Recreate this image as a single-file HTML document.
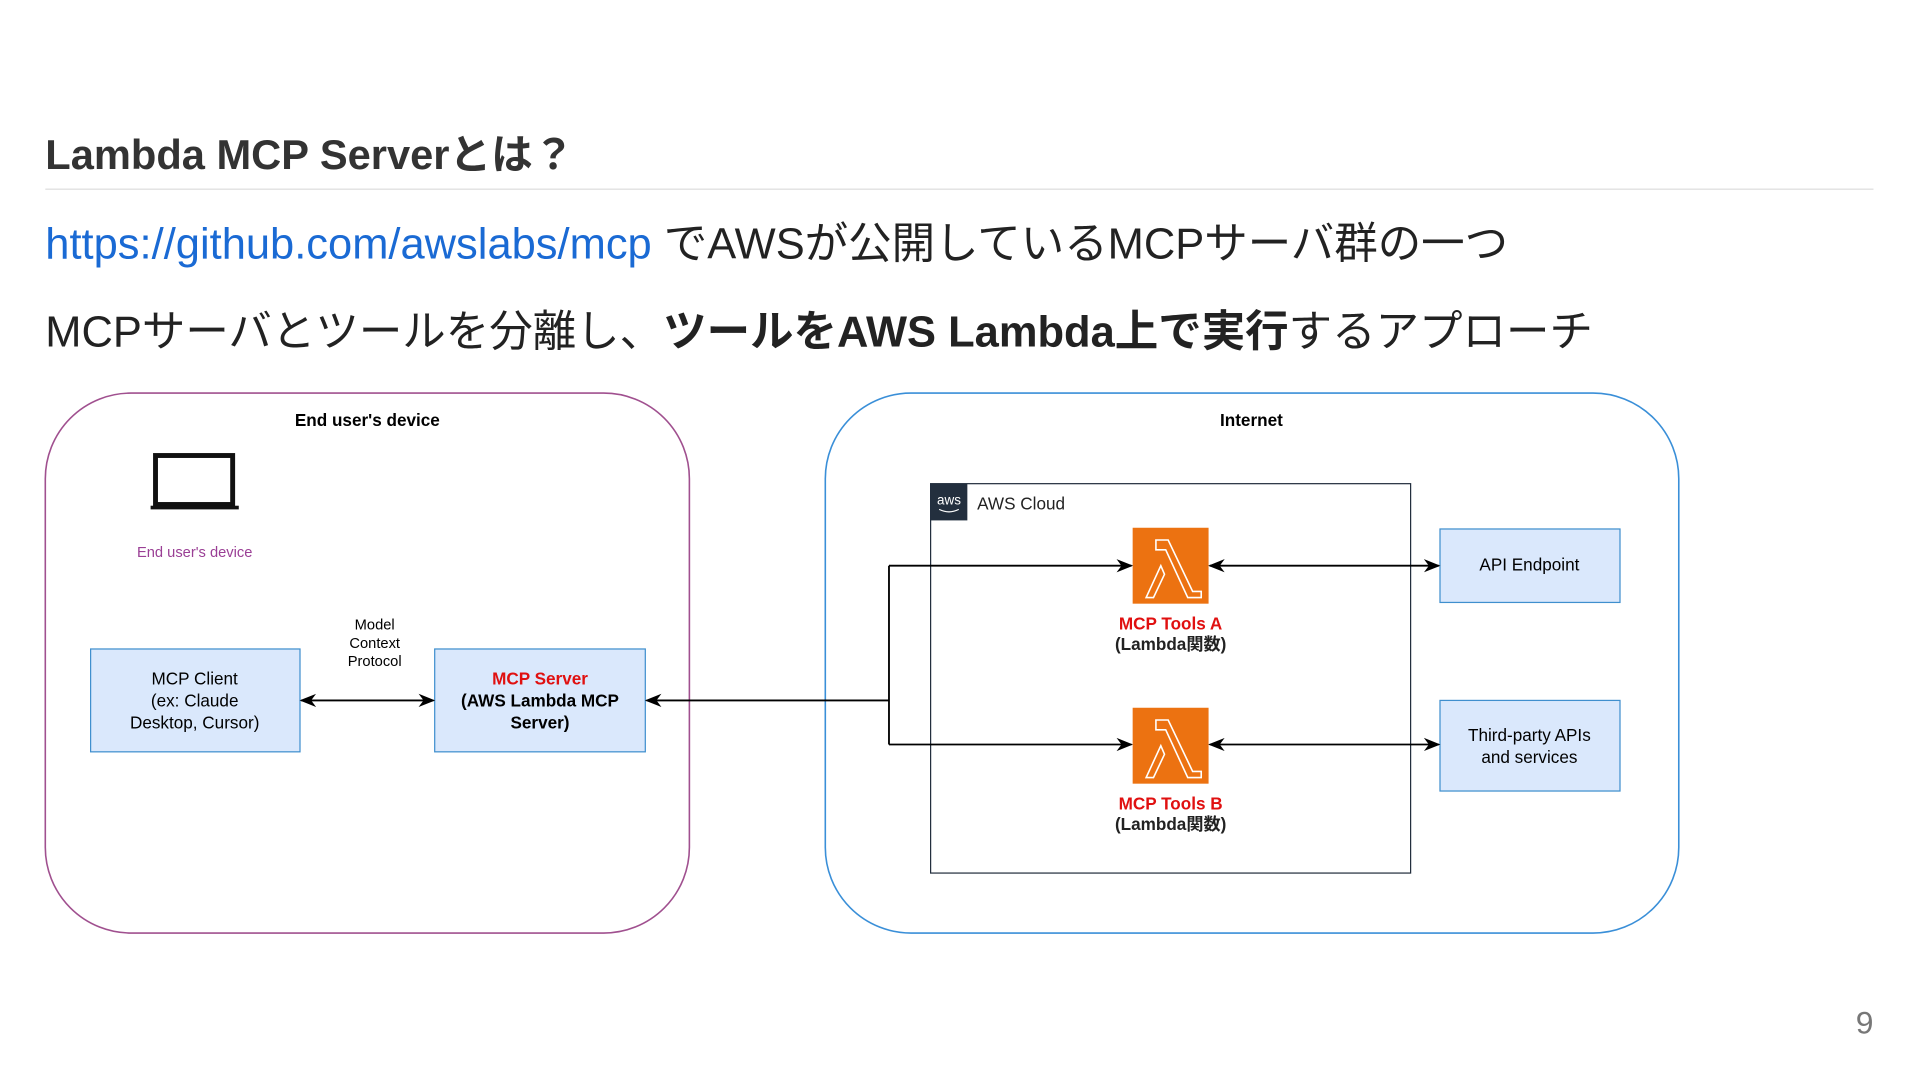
<!DOCTYPE html>
<html><head><meta charset="utf-8"><style>
html,body{margin:0;padding:0;width:1920px;height:1080px;overflow:hidden;background:#fff}
#w{position:absolute;left:0;top:0;width:1568px;height:882px;transform:scale(1.22449);transform-origin:0 0;font-family:"Liberation Sans","Noto Sans CJK JP",sans-serif;color:#222}
.t{position:absolute;white-space:nowrap}
</style></head><body><div id="w">
<div class="t" style="left:37px;top:99px;font-size:34px;font-weight:bold;color:#333">Lambda MCP Serverとは？</div>
<div style="position:absolute;left:37px;top:154px;width:1493px;height:1px;background:#ddd"></div>
<div class="t" style="left:37px;top:171px;font-size:35.5px;color:#222"><span style="color:#1a6ad4">https://github.com/awslabs/mcp</span> でAWSが公開しているMCPサーバ群の一つ</div>
<div class="t" style="left:37px;top:243px;font-size:35.5px;color:#222">MCPサーバとツールを分離し、<b>ツールをAWS Lambda上で実行</b>するアプローチ</div>
<svg style="position:absolute;left:0;top:0" width="1568" height="882" font-family="Liberation Sans, Noto Sans CJK JP, sans-serif">
<defs><marker id="a" viewBox="0 0 10 10" refX="9" refY="5" markerWidth="9" markerHeight="9" orient="auto-start-reverse"><path d="M0,1 L10,5 L0,9 L3,5z" fill="#000"/></marker></defs>
<rect x="37" y="321" width="526" height="441" rx="70" fill="none" stroke="#a0508f" stroke-width="1.3"/>
<rect x="674" y="321" width="697" height="441" rx="70" fill="none" stroke="#3a8fd8" stroke-width="1.3"/>
<text x="300" y="348" font-size="14" font-weight="bold" text-anchor="middle">End user's device</text>
<text x="1022" y="348" font-size="14" font-weight="bold" text-anchor="middle">Internet</text>
<rect x="127" y="372" width="63" height="40" fill="none" stroke="#111" stroke-width="4"/>
<rect x="123" y="413" width="72" height="3" fill="#111"/>
<text x="159" y="455" font-size="12" fill="#9a3f95" text-anchor="middle">End user's device</text>
<rect x="74" y="530" width="171" height="84" fill="#dae8fc" stroke="#3f8fce"/>
<text font-size="14" text-anchor="middle"><tspan x="159" y="559">MCP Client</tspan><tspan x="159" y="577">(ex: Claude</tspan><tspan x="159" y="595">Desktop, Cursor)</tspan></text>
<rect x="355" y="530" width="172" height="84" fill="#dae8fc" stroke="#3f8fce"/>
<text font-size="14" text-anchor="middle" font-weight="bold"><tspan x="441" y="559" fill="#e01010">MCP Server</tspan><tspan x="441" y="577">(AWS Lambda MCP</tspan><tspan x="441" y="595">Server)</tspan></text>
<text font-size="12" text-anchor="middle"><tspan x="306" y="514">Model</tspan><tspan x="306" y="529">Context</tspan><tspan x="306" y="544">Protocol</tspan></text>
<line x1="246" y1="572" x2="354" y2="572" stroke="#000" stroke-width="1.5" marker-start="url(#a)" marker-end="url(#a)"/>
<rect x="760" y="395" width="392" height="318" fill="none" stroke="#232f3e" stroke-width="1"/>
<rect x="760" y="395" width="30" height="30" fill="#232f3e"/>
<text x="775" y="412" font-size="11" fill="#fff" text-anchor="middle">aws</text>
<path d="M767 416 q8 4 16 0" stroke="#fff" fill="none"/>
<text x="798" y="416" font-size="14" fill="#222">AWS Cloud</text>
<g id="l"><rect x="925" y="431" width="62" height="62" fill="#ec7211"/>
<path d="M936 488 L948 462 L951 469 L942 488 Z M944 441 L954 441 L974 483 L981 483 L981 488 L970 488 L952 449 L944 449 Z" fill="none" stroke="#fff" stroke-width="1.3"/></g>
<use href="#l" y="147"/>
<text font-size="14" font-weight="bold" text-anchor="middle"><tspan x="956" y="514" fill="#e01010">MCP Tools A</tspan><tspan x="956" y="531" fill="#222">(Lambda関数)</tspan></text>
<text font-size="14" font-weight="bold" text-anchor="middle"><tspan x="956" y="661" fill="#e01010">MCP Tools B</tspan><tspan x="956" y="678" fill="#222">(Lambda関数)</tspan></text>
<rect x="1176" y="432" width="147" height="60" fill="#dae8fc" stroke="#3f8fce"/>
<text x="1249" y="466" font-size="14" text-anchor="middle">API Endpoint</text>
<rect x="1176" y="572" width="147" height="74" fill="#dae8fc" stroke="#3f8fce"/>
<text font-size="14" text-anchor="middle"><tspan x="1249" y="605">Third-party APIs</tspan><tspan x="1249" y="623">and services</tspan></text>
<line x1="726" y1="572" x2="528" y2="572" stroke="#000" stroke-width="1.5" marker-end="url(#a)"/>
<line x1="726" y1="462" x2="726" y2="608" stroke="#000" stroke-width="1.5"/>
<line x1="726" y1="462" x2="924" y2="462" stroke="#000" stroke-width="1.5" marker-end="url(#a)"/>
<line x1="726" y1="608" x2="924" y2="608" stroke="#000" stroke-width="1.5" marker-end="url(#a)"/>
<line x1="988" y1="462" x2="1175" y2="462" stroke="#000" stroke-width="1.5" marker-start="url(#a)" marker-end="url(#a)"/>
<line x1="988" y1="608" x2="1175" y2="608" stroke="#000" stroke-width="1.5" marker-start="url(#a)" marker-end="url(#a)"/>
<text x="1530" y="844" font-size="26" fill="#777" text-anchor="end">9</text>
</svg>
</div></body></html>
